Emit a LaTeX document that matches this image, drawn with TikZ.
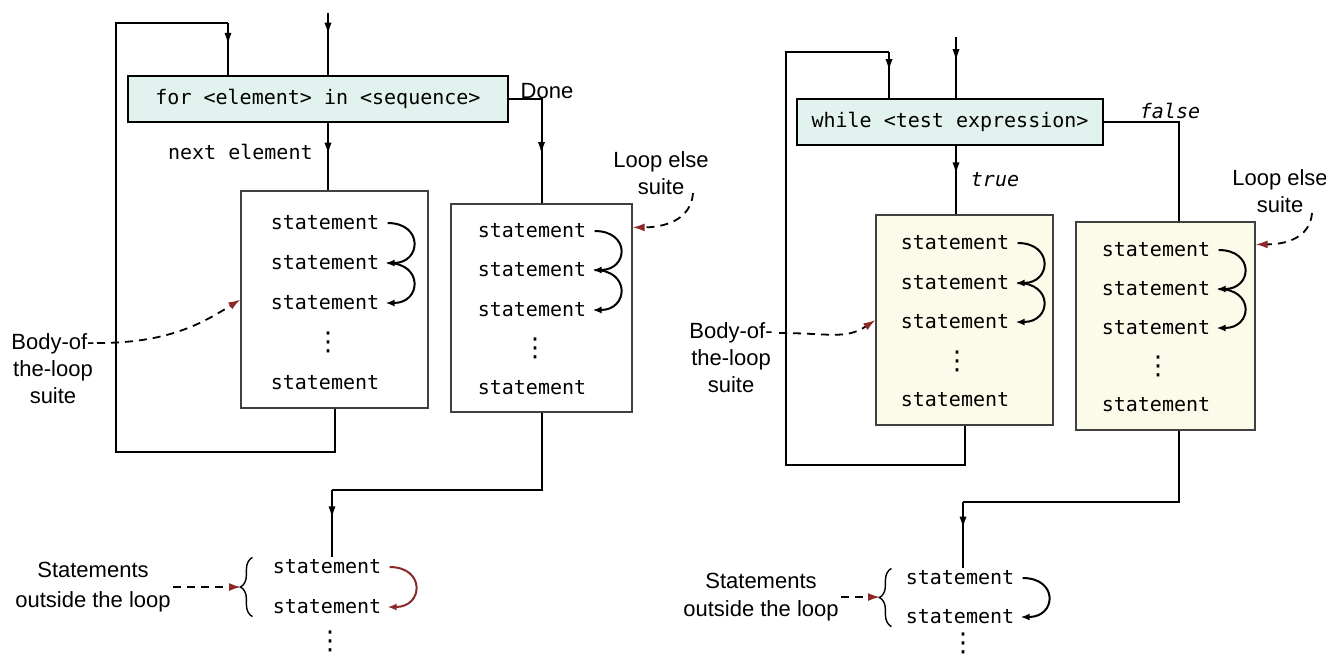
\documentclass[tikz,border=0pt]{standalone}
\usepackage{fontspec}
\setmainfont{Liberation Sans}
\setmonofont{DejaVu Sans Mono}
\newfontfamily\dotsfont{DejaVu Sans}
\usepackage{xcolor}
\usepackage{tikz}
\usetikzlibrary{positioning, calc, arrows.meta, decorations.markings, decorations.pathreplacing}
\definecolor{hdrfill}{RGB}{226,242,238}
\definecolor{suitefill}{RGB}{252,250,232}
\definecolor{notered}{RGB}{140,40,40}
\newcommand{\hdrcolor}{hdrfill}
\newcommand{\suitecolor}{suitefill}

\begin{document}
\begin{tikzpicture}[x=0.5pt, y=-0.5pt,
	midarrow/.style={postaction={decorate}, decoration={markings, mark=at position #1 with {\arrow{Latex[length=6pt,width=3.6pt]}}}},
	midarrow/.default=0.5]
	\tikzstyle{hdrbox}=[draw=black, line width=1pt, fill=\hdrcolor, minimum height=23pt, font=\ttfamily\fontsize{10}{12}\selectfont]
	\tikzstyle{suitebox}=[draw=black!75, line width=0.6pt, fill=white]
	\tikzstyle{stmt}=[inner sep=1pt, font=\ttfamily\fontsize{10}{12}\selectfont]
	\tikzstyle{dotc}=[inner sep=0pt, font=\dotsfont\fontsize{13}{13}\selectfont]
	\tikzstyle{lbl}=[inner sep=1pt, align=center, font=\fontsize{11}{13.5}\selectfont]
	\tikzstyle{flow}=[line width=1pt]
	\tikzstyle{stmtarc}=[line width=1pt, -{Latex[length=4.5pt,width=3.5pt]}]
	\tikzstyle{note}=[line width=0.9pt, dash pattern=on 4pt off 3pt, -{Latex[length=6pt,width=4pt,color=notered]}]
	\tikzstyle{brc}=[line width=0.7pt, decorate, decoration={brace, amplitude=6pt}]

	\useasboundingbox (0,0) rectangle (1326,655);

	% for loop
	\node (h01) at (318,99) [hdrbox, minimum width=190pt]{for <element> in <sequence>};
	\node (b01) at (334.5,299.5) [suitebox, minimum width=93.5pt, minimum height=108.5pt]{};
	\node (e01) at (541.5,308) [suitebox, minimum width=90.5pt, minimum height=104pt]{};

	\node (s11) at (325,223) [stmt]{statement};
	\node (s12) at (325,263) [stmt]{statement};
	\node (s13) at (325,303) [stmt]{statement};
	\node (s1d) at (328,342) [dotc]{⋮};
	\node (s14) at (325,383) [stmt]{statement};

	\node (s15) at (532,231) [stmt]{statement};
	\node (s16) at (532,270) [stmt]{statement};
	\node (s17) at (532,310) [stmt]{statement};
	\node (s1e) at (535,348) [dotc]{⋮};
	\node (s18) at (532,388) [stmt]{statement};

	\node (o11) at (327,567) [stmt]{statement};
	\node (o12) at (327,607) [stmt]{statement};
	\node (o1d) at (330,641) [dotc]{⋮};

	\coordinate (in1) at (328,13);
	\coordinate (fb1a) at (116,452);
	\coordinate (fb1b) at (228,23);
	\coordinate (ex1) at (332,490);
	\coordinate (t01) at (241,587);

	\draw[flow, midarrow=0.35] (in1) -- (in1 |- h01.north);
	\draw[flow] (b01.south) |- (fb1a) |- (fb1b);
	\draw[flow, midarrow=0.42] (fb1b) -- (fb1b |- h01.north);
	\draw[flow, midarrow=0.47] (in1 |- h01.south) -- (in1 |- b01.north);
	\draw[flow, midarrow=0.64] (h01.east) -| (e01.north);
	\draw[flow] (e01.south) |- (ex1);
	\draw[flow, midarrow=0.42] (ex1) -- (ex1 |- o11.north);

	\node at (315,152) [stmt, anchor=east]{next element};
	\node at (547,91) [lbl]{Done};

	\draw[stmtarc] ([xshift=3pt]s11.east) .. controls +(36,0) and +(36,0) .. ([xshift=2pt]s12.east);
	\draw[stmtarc] ([xshift=3pt]s12.east) .. controls +(36,0) and +(36,0) .. ([xshift=2pt]s13.east);
	\draw[stmtarc] ([xshift=3pt]s15.east) .. controls +(36,0) and +(36,0) .. ([xshift=2pt]s16.east);
	\draw[stmtarc] ([xshift=3pt]s16.east) .. controls +(36,0) and +(36,0) .. ([xshift=2pt]s17.east);
	\draw[stmtarc, notered] ([xshift=3pt]o11.east) .. controls +(36,0) and +(36,0) .. ([xshift=2pt]o12.east);
	\draw[brc] ([xshift=-9pt]o12.south west) -- ([xshift=-9pt]o11.north west);

	\node (l01) at (53,369) [lbl]{Body-of-\\the-loop\\suite};
	\coordinate (n01) at (97,343);
	\draw[note] (n01) .. controls +(70,0) and +(-40,25) .. (b01.west);
	\node (l02) at (661,173) [lbl]{Loop else\\suite};
	\coordinate (n02) at (693,193);
	\draw[note] (n02) .. controls +(-2,28) and +(30,0) .. ([yshift=-12pt]e01.north east);
	\node (l05) at (93,587) [lbl, font=\fontsize{11}{15}\selectfont]{Statements\\outside the loop};
	\draw[note] (l05.east) -- (t01);

	% while loop
	\node (h02) at (950,121.5) [hdrbox, minimum width=153pt]{while <test expression>};
	\node (b02) at (964.5,320) [suitebox, fill=\suitecolor, minimum width=88.5pt, minimum height=105pt]{};
	\node (e02) at (1165.5,326) [suitebox, fill=\suitecolor, minimum width=89.5pt, minimum height=104pt]{};

	\node (s21) at (955,243) [stmt]{statement};
	\node (s22) at (955,283) [stmt]{statement};
	\node (s23) at (955,322) [stmt]{statement};
	\node (s2d) at (957,361) [dotc]{⋮};
	\node (s24) at (955,400) [stmt]{statement};

	\node (s25) at (1156,250) [stmt]{statement};
	\node (s26) at (1156,289) [stmt]{statement};
	\node (s27) at (1156,328) [stmt]{statement};
	\node (s2e) at (1158,366) [dotc]{⋮};
	\node (s28) at (1156,405) [stmt]{statement};

	\node (o21) at (960,578) [stmt]{statement};
	\node (o22) at (960,617) [stmt]{statement};
	\node (o2d) at (963,643) [dotc]{⋮};

	\coordinate (in2) at (956,37);
	\coordinate (fb2a) at (786,465);
	\coordinate (fb2b) at (889,52);
	\coordinate (fl2) at (1179,0);
	\coordinate (ex2) at (963,502);
	\coordinate (t02) at (880,597);

	\draw[flow, midarrow=0.4] (in2) -- (in2 |- h02.north);
	\draw[flow] (b02.south) |- (fb2a) |- (fb2b);
	\draw[flow, midarrow=0.42] (fb2b) -- (fb2b |- h02.north);
	\draw[flow, midarrow=0.42] (in2 |- h02.south) -- (in2 |- b02.north);
	\draw[flow] (h02.east) -| (fl2 |- e02.north);
	\draw[flow] (fl2 |- e02.south) |- (ex2);
	\draw[flow, midarrow=0.4] (ex2) -- (ex2 |- o21.north);

	\node at (995,180) [stmt, font=\ttfamily\itshape\fontsize{10}{12}\selectfont]{true};
	\node at (1170,111) [stmt, font=\ttfamily\itshape\fontsize{10}{12}\selectfont]{false};

	\draw[stmtarc] ([xshift=3pt]s21.east) .. controls +(36,0) and +(36,0) .. ([xshift=2pt]s22.east);
	\draw[stmtarc] ([xshift=3pt]s22.east) .. controls +(36,0) and +(36,0) .. ([xshift=2pt]s23.east);
	\draw[stmtarc] ([xshift=3pt]s25.east) .. controls +(36,0) and +(36,0) .. ([xshift=2pt]s26.east);
	\draw[stmtarc] ([xshift=3pt]s26.east) .. controls +(36,0) and +(36,0) .. ([xshift=2pt]s27.east);
	\draw[stmtarc] ([xshift=3pt]o21.east) .. controls +(36,0) and +(36,0) .. ([xshift=2pt]o22.east);
	\draw[brc] ([xshift=-6pt]o22.south west) -- ([xshift=-6pt]o21.north west);

	\node (l03) at (731,358) [lbl]{Body-of-\\the-loop\\suite};
	\coordinate (n03) at (779,333);
	\draw[note] (n03) .. controls +(50,0) and +(-30,20) .. (b02.west);
	\node (l04) at (1280,191) [lbl]{Loop else\\suite};
	\coordinate (n04) at (1312,213);
	\draw[note] (n04) .. controls +(-2,25) and +(30,0) .. ([yshift=-11.5pt]e02.north east);
	\node (l06) at (761,597) [lbl, font=\fontsize{11}{14}\selectfont]{Statements\\outside the loop};
	\draw[note] (l06.east) -- (t02);
\end{tikzpicture}
\end{document}
